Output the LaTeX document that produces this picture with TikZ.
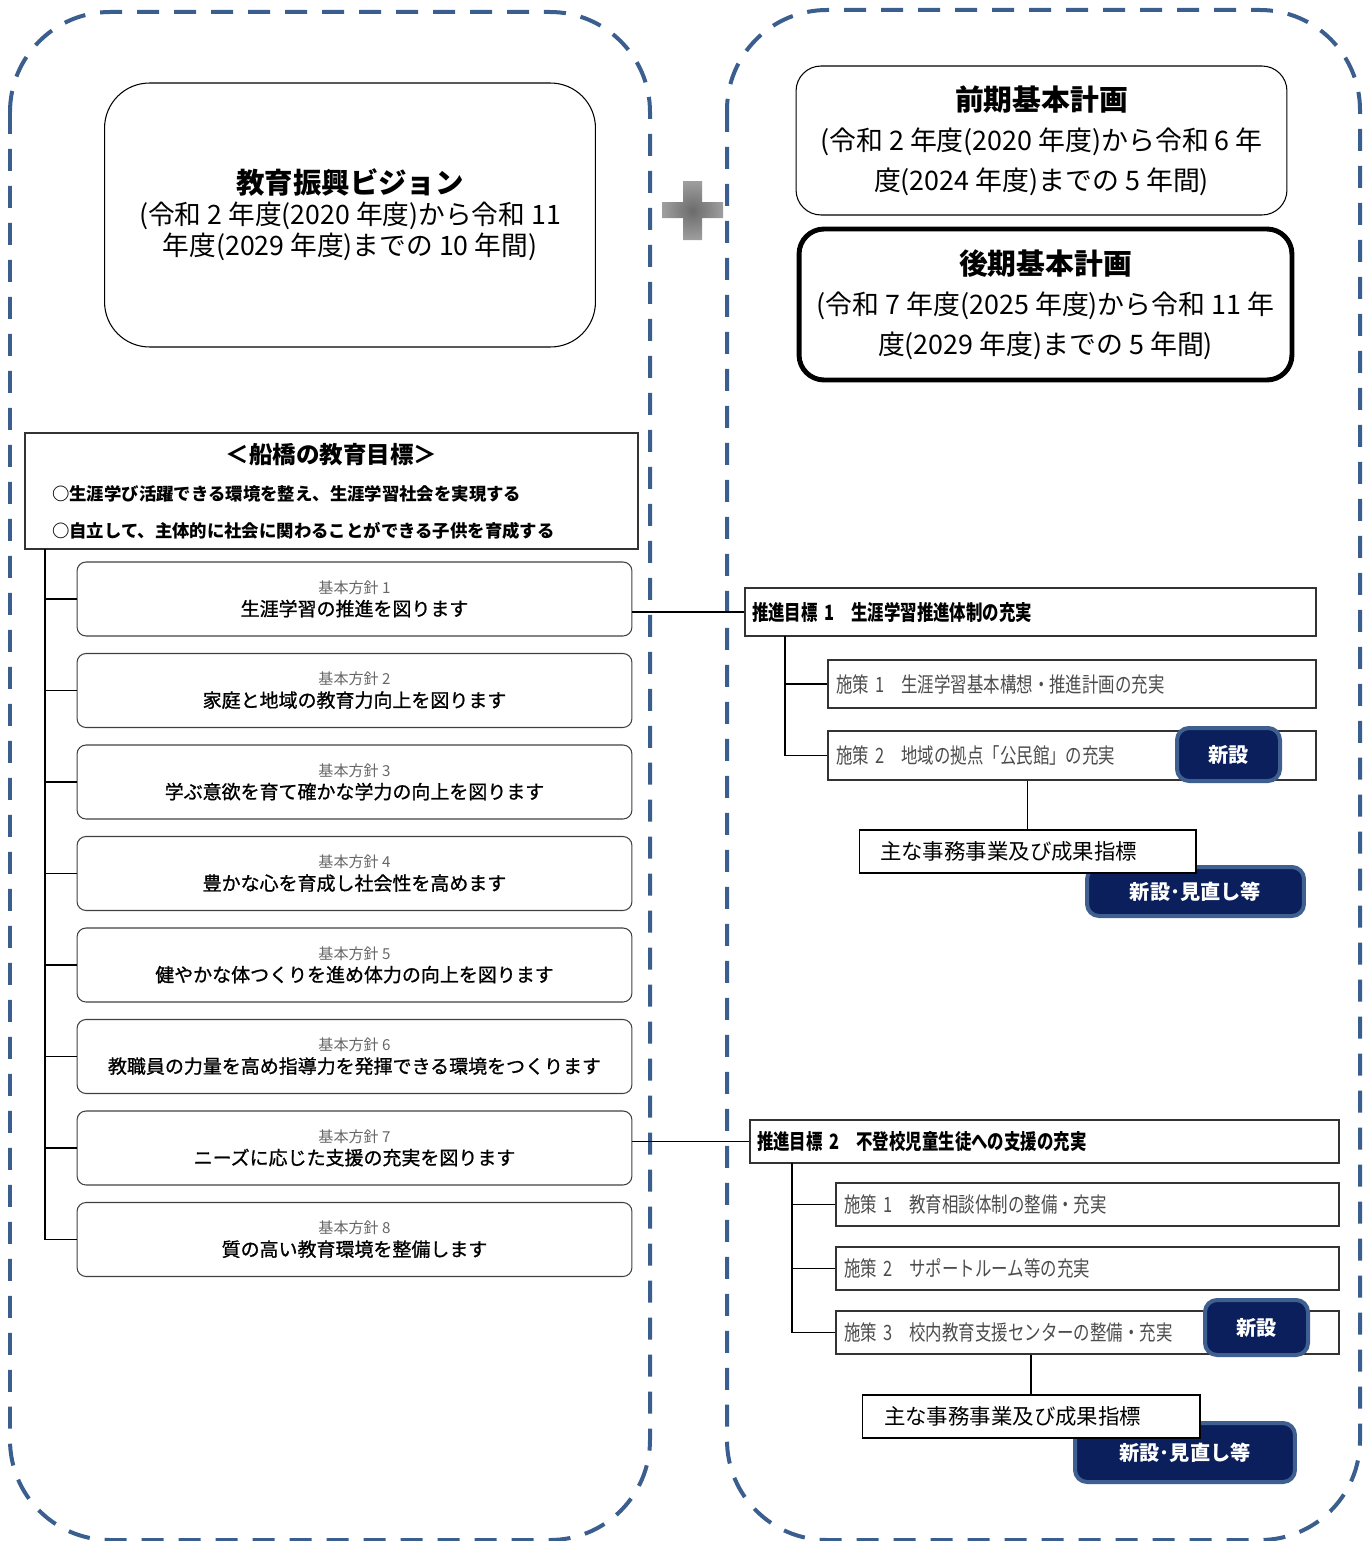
\documentclass[tikz,border=0pt]{standalone}
\usepackage{fontspec}
\setmainfont{Noto Sans CJK JP}
\newfontfamily\condfont{Noto Sans CJK JP}[FakeStretch=0.78]
\newfontfamily\heavyfont{Noto Sans CJK JP}[FakeBold=1]
\usepackage{tikz}

\definecolor{frameblue}{RGB}{58,94,142}
\definecolor{badgenavy}{RGB}{10,31,92}
\definecolor{badgeedge}{RGB}{62,95,143}
\newcommand\policylabel{\rmfamily\color{black!60}\fontsize{8.6pt}{12.5pt}\selectfont}

\begin{document}
\begin{tikzpicture}[x=0.02cm, y=-0.02cm,
  frame/.style={draw=frameblue, line width=0.08cm, dash pattern=on 0.44cm off 0.3cm, rounded corners=2cm},
  plan/.style={draw, line width=0.6pt, rounded corners=0.5cm, align=center, inner sep=0pt, font=\fontsize{15.3pt}{22.8pt}\selectfont},
  policy/.style={draw=black!75, line width=0.6pt, rounded corners=0.18cm, minimum width=11.1cm, minimum height=1.48cm, align=center, inner sep=0pt, font=\heavyfont\fontsize{10.8pt}{12.8pt}\selectfont},
  target/.style={draw=black!80, line width=0.8pt, align=left, inner ysep=0pt, inner xsep=0.14cm, font=\condfont\bfseries\fontsize{12pt}{14pt}\selectfont},
  measure/.style={draw=black!80, line width=0.8pt, align=left, inner ysep=0pt, inner xsep=0.16cm, text=black!70, font=\condfont\fontsize{12pt}{14pt}\selectfont},
  badge/.style={fill=badgenavy, draw=badgeedge, line width=0.08cm, rounded corners=0.24cm, inner sep=0pt, text=white, font=\bfseries\fontsize{11.5pt}{13pt}\selectfont},
  project/.style={draw, fill=white, line width=0.6pt, align=left, inner ysep=0pt, minimum height=0.86cm, font=\fontsize{12.2pt}{14pt}\selectfont},
  link/.style={line width=0.8pt}]
  \useasboundingbox (0,0) rectangle (1371,1541);

  \draw [frame] (10,12) rectangle (650,1540);
  \draw [frame] (727,10) rectangle (1360,1540);

  \shade [inner color=black!58, outer color=black!38] (662,202) -- (683,202) -- (683,181) -- (702,181) -- (702,202) -- (723,202)
    -- (723,218) -- (702,218) -- (702,240) -- (683,240) -- (683,218) -- (662,218) -- cycle;

  \node (vision) [plan, minimum width=9.82cm, minimum height=5.28cm, rounded corners=0.9cm, font=\fontsize{15.2pt}{17.6pt}\selectfont] at (350, 215)
    {{\bfseries\fontsize{16.2pt}{18.6pt}\selectfont 教育振興ビジョン}\\
     (令和 2 年度(2020 年度)から令和 11\\
     年度(2029 年度)までの 10 年間)};

  \node (early) [plan] at (1041.5, 140.5) [minimum width=9.82cm, minimum height=2.98cm]
    {{\bfseries\fontsize{16.4pt}{22.8pt}\selectfont 前期基本計画}\\
     (令和 2 年度(2020 年度)から令和 6 年\\
     度(2024 年度)までの 5 年間)};
  \node (late) [plan, line width=2.8pt] at (1045.5, 304.5) [minimum width=9.86cm, minimum height=3.02cm]
    {{\bfseries\fontsize{16.4pt}{22.8pt}\selectfont 後期基本計画}\\
     (令和 7 年度(2025 年度)から令和 11 年\\
     度(2029 年度)までの 5 年間)};

  \node (goal) [draw=black!80, line width=0.8pt, text width=11.18cm, inner xsep=0.54cm, inner ysep=0pt, minimum height=2.32cm, align=left,
    font=\bfseries\fontsize{9.9pt}{21pt}\selectfont] at (331.5, 491)
    {\makebox[\linewidth][c]{\fontsize{13.4pt}{21pt}\selectfont ＜船橋の教育目標＞}\\
     ○生涯学び活躍できる環境を整え、生涯学習社会を実現する\\
     ○自立して、主体的に社会に関わることができる子供を育成する};

  \node (policy1) [policy] at (354.5, 599) {{\policylabel 基本方針 1}\\ 生涯学習の推進を図ります};
  \node (policy2) [policy] at (354.5, 690.5) {{\policylabel 基本方針 2}\\ 家庭と地域の教育力向上を図ります};
  \node (policy3) [policy] at (354.5, 782) {{\policylabel 基本方針 3}\\ 学ぶ意欲を育て確かな学力の向上を図ります};
  \node (policy4) [policy] at (354.5, 873.5) {{\policylabel 基本方針 4}\\ 豊かな心を育成し社会性を高めます};
  \node (policy5) [policy] at (354.5, 965) {{\policylabel 基本方針 5}\\ 健やかな体つくりを進め体力の向上を図ります};
  \node (policy6) [policy] at (354.5, 1056.5) {{\policylabel 基本方針 6}\\ 教職員の力量を高め指導力を発揮できる環境をつくります};
  \node (policy7) [policy] at (354.5, 1148) {{\policylabel 基本方針 7}\\ ニーズに応じた支援の充実を図ります};
  \node (policy8) [policy] at (354.5, 1239.5) {{\policylabel 基本方針 8}\\ 質の高い教育環境を整備します};

  \coordinate (trunk) at (45, 549);
  \draw [link] (trunk) -- (trunk |- policy8.west);
  \draw [link] (trunk |- policy1.west) -- (policy1.west);
  \draw [link] (trunk |- policy2.west) -- (policy2.west);
  \draw [link] (trunk |- policy3.west) -- (policy3.west);
  \draw [link] (trunk |- policy4.west) -- (policy4.west);
  \draw [link] (trunk |- policy5.west) -- (policy5.west);
  \draw [link] (trunk |- policy6.west) -- (policy6.west);
  \draw [link] (trunk |- policy7.west) -- (policy7.west);
  \draw [link] (trunk |- policy8.west) -- (policy8.west);

  \node (target1) [target, text width=11.14cm, minimum height=0.96cm] at (1030.5, 612) {推進目標 1　生涯学習推進体制の充実};
  \node (measure11) [measure, text width=9.44cm, minimum height=0.96cm] at (1072, 684) {施策 1　生涯学習基本構想・推進計画の充実};
  \node (measure12) [measure, text width=9.44cm, minimum height=0.98cm] at (1072, 755.5) {施策 2　地域の拠点「公民館」の充実};
  \node (new1) [badge, minimum width=2.06cm, minimum height=1.06cm] at (1228.5, 754.5) {新設};
  \node (revise1) [badge, minimum width=4.34cm, minimum height=0.98cm] at (1195.5, 891.5) {新設･見直し等};
  \node (work1) [project, text width=5.9cm, inner xsep=0.42cm] at (1027.5, 851.5) {主な事務事業及び成果指標};

  \draw [link] (policy1.east |- target1.west) -- (target1.west);
  \coordinate (stem1) at (785, 636);
  \draw [link] (stem1) -- (stem1 |- measure12.west);
  \draw [link] (stem1 |- measure11.west) -- (measure11.west);
  \draw [link] (stem1 |- measure12.west) -- (measure12.west);
  \draw [link] (measure12.south -| work1.north) -- (work1.north);

  \node (target2) [target, text width=11.5cm, minimum height=0.86cm] at (1044.5, 1141.5) {推進目標 2　不登校児童生徒への支援の充実};
  \node (measure21) [measure, text width=9.74cm, minimum height=0.86cm] at (1087.5, 1204.5) {施策 1　教育相談体制の整備・充実};
  \node (measure22) [measure, text width=9.74cm, minimum height=0.86cm] at (1087.5, 1268.5) {施策 2　サポートルーム等の充実};
  \node (measure23) [measure, text width=9.74cm, minimum height=0.86cm] at (1087.5, 1332.5) {施策 3　校内教育支援センターの整備・充実};
  \node (new2) [badge, minimum width=2.06cm, minimum height=1.1cm] at (1256.5, 1327.5) {新設};
  \node (revise2) [badge, minimum width=4.4cm, minimum height=1.18cm] at (1185, 1452.5) {新設･見直し等};
  \node (work2) [project, text width=5.88cm, inner xsep=0.44cm] at (1031, 1416.5) {主な事務事業及び成果指標};

  \draw [link] (policy7.east |- target2.west) -- (target2.west);
  \coordinate (stem2) at (792, 1163);
  \draw [link] (stem2) -- (stem2 |- measure23.west);
  \draw [link] (stem2 |- measure21.west) -- (measure21.west);
  \draw [link] (stem2 |- measure22.west) -- (measure22.west);
  \draw [link] (stem2 |- measure23.west) -- (measure23.west);
  \draw [link] (measure23.south -| work2.north) -- (work2.north);
\end{tikzpicture}
\end{document}
